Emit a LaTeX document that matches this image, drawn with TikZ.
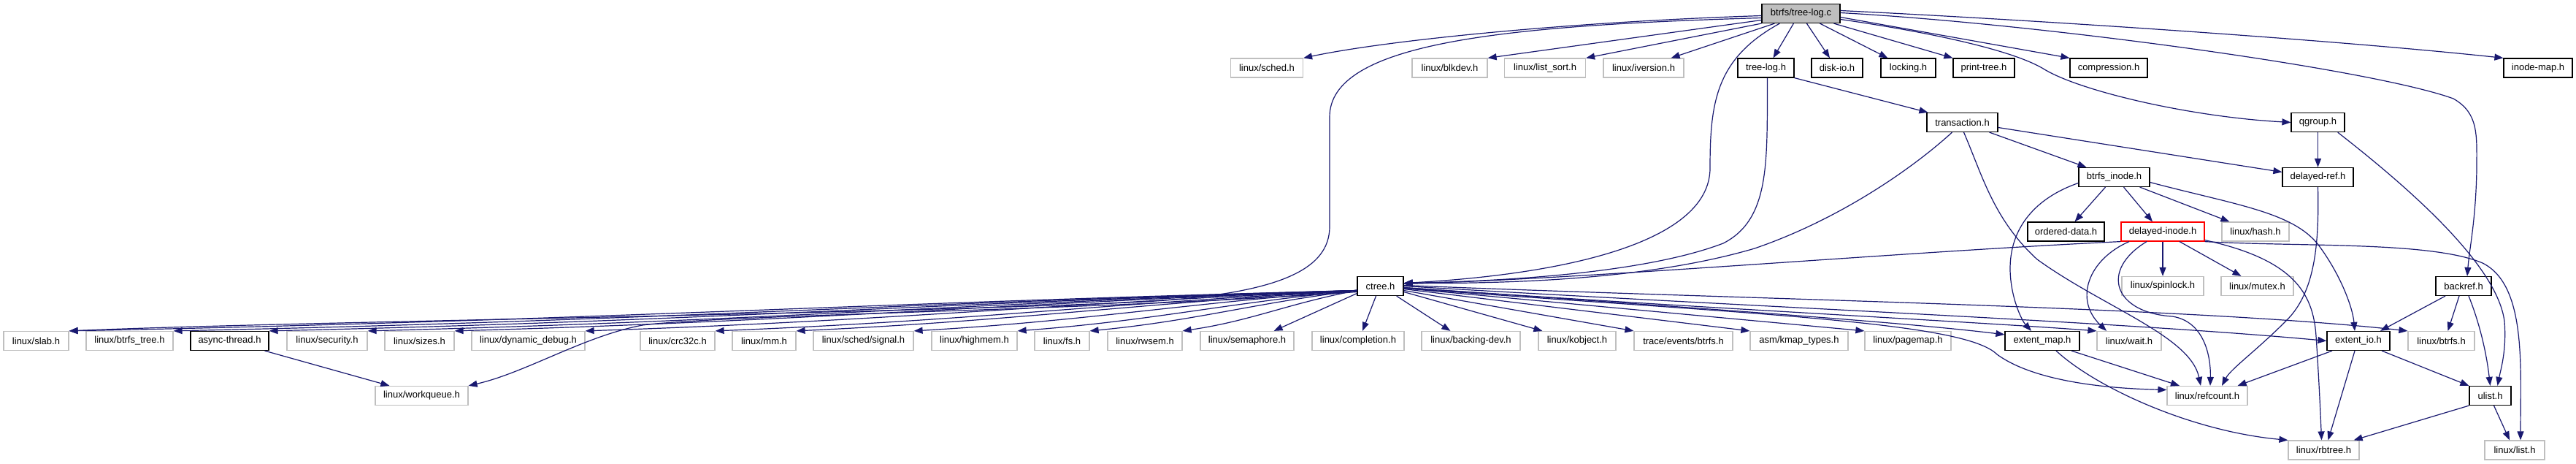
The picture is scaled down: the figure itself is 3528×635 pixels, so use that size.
\documentclass[tikz,border=0pt]{standalone}
\usepackage{fontspec}
\setmainfont{Liberation Sans}
\usetikzlibrary{arrows.meta}
\definecolor{edgecol}{HTML}{191970}
\definecolor{graybd}{HTML}{BFBFBF}
\definecolor{rootfill}{HTML}{BFBFBF}
\definecolor{redbd}{HTML}{FF0000}
\begin{document}
\begin{tikzpicture}[x=0.5pt,y=-0.5pt,
  font=\fontsize{6.5pt}{7.8pt}\selectfont,
  box/.style={draw, line width=0.6pt, minimum height=13pt, inner sep=0pt, fill=white, text=black, minimum width=#1*0.5pt},
  gbox/.style={box=#1, draw=graybd},
  bbox/.style={box=#1, draw=black},
  rbox/.style={box=#1, draw=redbd},
  edge/.style={draw=edgecol, line width=0.6pt, -{Triangle[length=6pt,width=4.5pt]}}]
\useasboundingbox (0,0) rectangle (3528,635);
\fill[white] (0,0) rectangle (3528,635);
% rank 0
\node[bbox=107, fill=rootfill] (root) at (2466.5,18.5) {btrfs/tree-log.c};
% rank 1
\node[gbox=99] (sched) at (1735,93) {linux/sched.h};
\node[gbox=103] (blkdev) at (1985.5,93) {linux/blkdev.h};
\node[gbox=111] (listsort) at (2116,93) {linux/list\_sort.h};
\node[gbox=110] (iversion) at (2251,93) {linux/iversion.h};
\node[bbox=77] (treeloghh) at (2418.5,93) {tree-log.h};
\node[bbox=70] (diskio) at (2516,93) {disk-io.h};
\node[bbox=75] (locking) at (2613.5,93) {locking.h};
\node[bbox=84] (printtree) at (2717,93) {print-tree.h};
\node[bbox=106] (compression) at (2888,93) {compression.h};
\node[bbox=94] (inodemap) at (3476,93) {inode-map.h};
% rank 2
\node[bbox=97] (transaction) at (2687.5,167.5) {transaction.h};
\node[bbox=73] (qgroup) at (3174.5,167.5) {qgroup.h};
% rank 3
\node[bbox=97] (btrfsinode) at (2895.5,242.5) {btrfs\_inode.h};
\node[bbox=97] (delayedref) at (3174.5,242.5) {delayed-ref.h};
% rank 4
\node[bbox=105] (ordered) at (2829.5,317) {ordered-data.h};
\node[rbox=114] (delayedinode) at (2962,317) {delayed-inode.h};
\node[gbox=92] (hash) at (3089,317) {linux/hash.h};
% rank 5
\node[bbox=63] (ctree) at (1890.5,391.5) {ctree.h};
\node[gbox=112] (spinlock) at (2962,391.5) {linux/spinlock.h};
\node[gbox=99] (mutex) at (3091.5,391.5) {linux/mutex.h};
\node[bbox=76] (backref) at (3374,391.5) {backref.h};
% rank 6
\node[gbox=89] (slab) at (49.5,466.5) {linux/slab.h};
\node[gbox=119] (btrfstree) at (177.5,466.5) {linux/btrfs\_tree.h};
\node[bbox=107] (async) at (314.5,466.5) {async-thread.h};
\node[gbox=110] (security) at (448,466.5) {linux/security.h};
\node[gbox=95] (sizes) at (574.5,466.5) {linux/sizes.h};
\node[gbox=155] (dyndebug) at (723.5,466.5) {linux/dynamic\_debug.h};
\node[gbox=102] (crc) at (928,466.5) {linux/crc32c.h};
\node[gbox=87] (mm) at (1046.5,466.5) {linux/mm.h};
\node[gbox=137] (signal) at (1182.5,466.5) {linux/sched/signal.h};
\node[gbox=117] (highmem) at (1334.5,466.5) {linux/highmem.h};
\node[gbox=75] (fs) at (1454.5,466.5) {linux/fs.h};
\node[gbox=102] (rwsem) at (1568,466.5) {linux/rwsem.h};
\node[gbox=128] (semaphore) at (1708,466.5) {linux/semaphore.h};
\node[gbox=126] (completion) at (1860,466.5) {linux/completion.h};
\node[gbox=135] (backingdev) at (2014.5,466.5) {linux/backing-dev.h};
\node[gbox=106] (kobject) at (2160,466.5) {linux/kobject.h};
\node[gbox=135] (traceev) at (2305.5,466.5) {trace/events/btrfs.h};
\node[gbox=134] (kmap) at (2464,466.5) {asm/kmap\_types.h};
\node[gbox=118] (pagemap) at (2613,466.5) {linux/pagemap.h};
\node[bbox=102] (extentmap) at (2797,466.5) {extent\_map.h};
\node[gbox=88] (wait) at (2916,466.5) {linux/wait.h};
\node[bbox=86] (extentio) at (3230,466.5) {extent\_io.h};
\node[gbox=91] (btrfsh) at (3343.5,466.5) {linux/btrfs.h};
% rank 7
\node[gbox=127] (workqueue) at (577.5,541.5) {linux/workqueue.h};
\node[gbox=110] (refcount) at (3023,541.5) {linux/refcount.h};
\node[bbox=57] (ulist) at (3410.5,541.5) {ulist.h};
% rank 8
\node[gbox=97] (rbtree) at (3182.5,616) {linux/rbtree.h};
\node[gbox=82] (list) at (3444,616) {linux/list.h};

% ---- edges from btrfs/tree-log.c
\draw[edge] ([shift={(0,3)}]root.west) .. controls (2150,30) and (1900,55) .. (sched.north east);
\draw[edge] ([shift={(0,6)}]root.west) .. controls (2050,35) and (1821,60) .. (1821,160) -- (1821,310) .. controls (1821,370) and (1750,402) .. (1567,413) .. controls (1200,430) and (400,440) .. (slab.north east);
\draw[edge] ([shift={(0,9)}]root.west) -- (blkdev.north east);
\draw[edge] (root.south west) -- (listsort.north east);
\draw[edge] ([shift={(18,0)}]root.south west) -- ([shift={(-18,0)}]iversion.north east);
\draw[edge] ([shift={(25,0)}]root.south west) .. controls (2350,80) and (2342,140) .. (2342,230) .. controls (2342,330) and (2150,375) .. ([shift={(0,-4)}]ctree.east);
\draw[edge] ([shift={(44,0)}]root.south west) -- ([shift={(10,0)}]treeloghh.north);
\draw[edge] ([shift={(62,0)}]root.south west) -- ([shift={(-10,0)}]diskio.north);
\draw[edge] ([shift={(80,0)}]root.south west) -- ([shift={(10,0)}]locking.north west);
\draw[edge] ([shift={(99,0)}]root.south west) -- (printtree.north west);
\draw[edge] ([shift={(0,5)}]root.east) -- (compression.north west);
\draw[edge] ([shift={(0,8)}]root.east) .. controls (2650,45) and (2760,70) .. (2800,95) .. controls (2850,125) and (3000,160) .. (qgroup.west);
\draw[edge] ([shift={(0,-4)}]root.east) .. controls (2800,28) and (3200,55) .. (inodemap.north west);
\draw[edge] ([shift={(0,-1)}]root.east) .. controls (2800,33) and (3250,95) .. (3360,135) .. controls (3395,155) and (3392,185) .. (3392,230) .. controls (3391,300) and (3382,340) .. ([shift={(5,0)}]backref.north);

% ---- tree-log.h
\draw[edge] (treeloghh.south east) -- ([shift={(2,0)}]transaction.north west);
\draw[edge] ([shift={(2,0)}]treeloghh.south) .. controls (2420,220) and (2425,300) .. (2360,333) .. controls (2250,375) and (2050,385) .. ([shift={(0,-4)}]ctree.east);

% ---- transaction.h
\draw[edge] ([shift={(-12,0)}]transaction.south east) -- ([shift={(11,0)}]btrfsinode.north west);
\draw[edge] ([shift={(0,7)}]transaction.east) -- ([shift={(0,-7)}]delayedref.west);
\draw[edge] ([shift={(-14,0)}]transaction.south) .. controls (2620,230) and (2520,300) .. (2403,340) .. controls (2250,385) and (2050,388) .. ([shift={(0,-4)}]ctree.east);
\draw[edge] ([shift={(2,0)}]transaction.south) .. controls (2715,240) and (2730,300) .. (2790,355) .. controls (2880,420) and (3000,460) .. ([shift={(-9,0)}]refcount.north);

% ---- btrfs_inode.h
\draw[edge] ([shift={(0,8)}]btrfsinode.west) .. controls (2790,270) and (2752,310) .. (2753,370) .. controls (2754,410) and (2770,440) .. ([shift={(-15,0)}]extentmap.north);
\draw[edge] ([shift={(-12,0)}]btrfsinode.south) -- ([shift={(12,0)}]ordered.north);
\draw[edge] ([shift={(13,0)}]btrfsinode.south) -- ([shift={(-14,0)}]delayedinode.north);
\draw[edge] ([shift={(-14,0)}]btrfsinode.south east) -- ([shift={(11,0)}]hash.north west);
\draw[edge] ([shift={(0,7)}]btrfsinode.east) .. controls (3060,280) and (3140,290) .. (3175,335) .. controls (3205,375) and (3222,420) .. ([shift={(-5,0)}]extentio.north);

% ---- qgroup.h, delayed-ref.h
\draw[edge] (qgroup.south) -- (delayedref.north);
\draw[edge] ([shift={(-10,0)}]qgroup.south east) .. controls (3290,250) and (3420,360) .. (3430,440) .. controls (3433,480) and (3425,505) .. ([shift={(10,0)}]ulist.north);
\draw[edge] (delayedref.south) .. controls (3176,330) and (3172,400) .. (3130,440) .. controls (3090,480) and (3055,505) .. ([shift={(20,0)}]refcount.north);

% ---- delayed-inode.h
\draw[edge] (delayedinode.south west) .. controls (2600,345) and (2200,380) .. ([shift={(0,-3)}]ctree.east);
\draw[edge] (delayedinode.south) -- (spinlock.north);
\draw[edge] ([shift={(23,0)}]delayedinode.south) -- ([shift={(-22,0)}]mutex.north);
\draw[edge] ([shift={(-46,0)}]delayedinode.south) .. controls (2860,355) and (2840,410) .. ([shift={(-31,0)}]wait.north);
\draw[edge] ([shift={(-22,0)}]delayedinode.south) .. controls (2875,370) and (2895,428) .. (2975,433) .. controls (3020,440) and (3028,490) .. ([shift={(4,0)}]refcount.north);
\draw[edge] ([shift={(0,-2)}]delayedinode.south east) .. controls (3140,355) and (3168,400) .. (3172,460) .. controls (3176,520) and (3178,565) .. ([shift={(-3,0)}]rbtree.north);
\draw[edge] (delayedinode.south east) .. controls (3150,338) and (3330,330) .. (3400,360) .. controls (3460,390) and (3452,500) .. ([shift={(8,0)}]list.north);

% ---- backref.h
\draw[edge] ([shift={(-25,0)}]backref.south) -- ([shift={(30,0)}]extentio.north);
\draw[edge] ([shift={(-6,0)}]backref.south) -- ([shift={(9,0)}]btrfsh.north);
\draw[edge] ([shift={(7,0)}]backref.south) .. controls (3395,440) and (3405,480) .. (ulist.north);

% ---- extent_io.h, extent_map.h, ulist.h
\draw[edge] ([shift={(-36,0)}]extentio.south) -- ([shift={(-14,0)}]refcount.north east);
\draw[edge] ([shift={(-5,0)}]extentio.south) -- ([shift={(6,0)}]rbtree.north);
\draw[edge] ([shift={(32,0)}]extentio.south) -- (ulist.north west);
\draw[edge] ([shift={(40,0)}]extentmap.south) -- ([shift={(-38,0)}]refcount.north);
\draw[edge] ([shift={(19,0)}]extentmap.south) .. controls (2870,530) and (3000,590) .. (rbtree.north west);
\draw[edge] (ulist.south west) -- ([shift={(-8,0)}]rbtree.north east);
\draw[edge] ([shift={(5,0)}]ulist.south) -- ([shift={(-7,0)}]list.north);

% ---- async-thread.h
\draw[edge] ([shift={(-6,0)}]async.south east) -- ([shift={(20,0)}]workqueue.north west);

% ---- ctree.h to the left
\foreach \n/\a in {slab/700, btrfstree/650, async/600, security/540, sizes/490, dyndebug/420, crc/350, mm/300, signal/240, highmem/185, fs/145, rwsem/95}
  \draw[edge] ([shift={(0,6)}]ctree.west) .. controls +(-\a,18) and +(\a,-14) .. (\n.north east);
\draw[edge] ([shift={(0,8)}]ctree.west) .. controls (1500,425) and (1000,430) .. (880,445) .. controls (800,460) and (720,510) .. (workqueue.north east);
\draw[edge] ([shift={(0,10)}]ctree.west) -- ([shift={(-28,0)}]semaphore.north east);
\draw[edge] ([shift={(-6,0)}]ctree.south) -- ([shift={(6,0)}]completion.north);

% ---- ctree.h to the right
\draw[edge] ([shift={(-10,0)}]ctree.south east) -- ([shift={(40,0)}]backingdev.north west);
\draw[edge] ([shift={(0,8)}]ctree.east) -- ([shift={(6,0)}]kobject.north west);
\draw[edge] ([shift={(0,6)}]ctree.east) -- (traceev.north west);
\draw[edge] ([shift={(0,4)}]ctree.east) -- (kmap.north west);
\draw[edge] ([shift={(0,3)}]ctree.east) -- (pagemap.north west);
\draw[edge] ([shift={(0,2)}]ctree.east) .. controls (2300,420) and (2600,440) .. ([shift={(0,5)}]extentmap.north west);
\draw[edge] ([shift={(0,2)}]ctree.east) .. controls (2300,420) and (2700,440) .. (wait.north west);
\draw[edge] (ctree.east) .. controls (2400,420) and (2900,440) .. (extentio.west);
\draw[edge] ([shift={(0,-1)}]ctree.east) .. controls (2400,410) and (3000,420) .. (btrfsh.north west);
\draw[edge] ([shift={(0,3)}]ctree.east) .. controls (2400,430) and (2690,440) .. (2735,485) .. controls (2790,525) and (2900,532) .. ([shift={(0,-8)}]refcount.west);
\end{tikzpicture}
\end{document}
